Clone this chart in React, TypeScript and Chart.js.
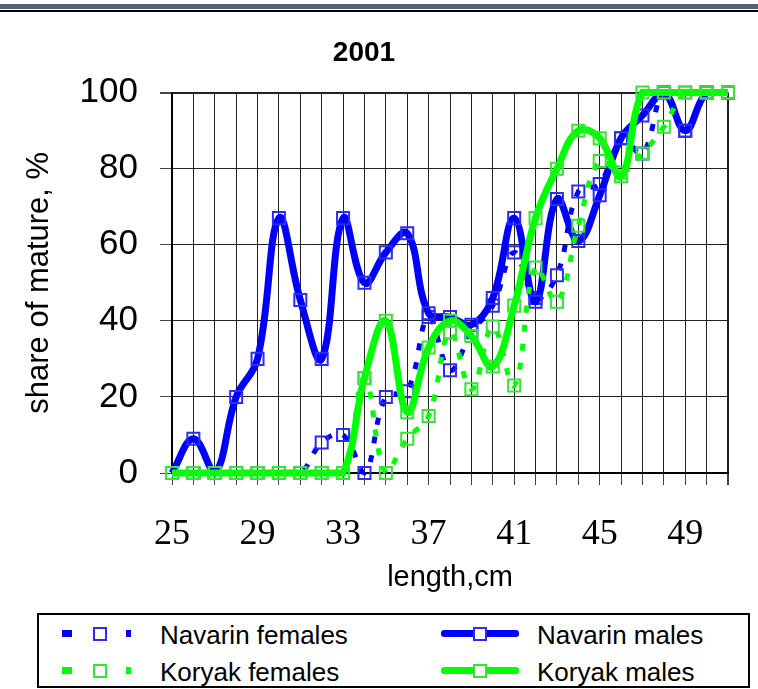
import React, { useEffect, useRef } from 'react';
import { Chart, registerables } from 'chart.js';

Chart.register(...registerables);

// ---- data ----
const lengths = [25, 26, 27, 28, 29, 30, 31, 32, 33, 34, 35, 36, 37, 38, 39, 40, 41, 42, 43, 44, 45, 46, 47, 48, 49, 50, 51];
const navarinFemales = [0, 0, 0, 0, 0, 0, 0, 8, 10, 0, 20, 21.5, 41, 27, 37, 44, 58, 46, 52, 74, 76, 88, 84, 100, 90, 100, 100];
const navarinMales = [0, 9, 0, 20, 30, 67, 45.5, 30, 67, 50, 58, 63, 42, 41, 39, 46, 67, 45, 72, 61, 73, 88, 94, 100, 90, 100, 100];
const koryakFemales = [0, 0, 0, 0, 0, 0, 0, 0, 0, 25, 0, 9, 15, 37, 22, 38.5, 23, 54, 45, 65, 82, 79, 84, 91, 100, 100, 100];
const koryakMales = [0, 0, 0, 0, 0, 0, 0, 0, 0, 25, 40, 16, 33, 40, 36, 28, 44, 67, 80, 90, 88, 78, 100, 100, 100, 100, 100];
const xLabelStep = 4;
const yStep = 20;
const yMin = 0;
const yMax = 100;

const titleText = '2001';
const xTitle = 'length,cm';
const yTitle = 'share of mature, %';
const legendItems = [
  { label: 'Navarin females', color: '#0000ff', marker: '#2b2bff', dashed: true },
  { label: 'Navarin males', color: '#0000ff', marker: '#2b2bff', dashed: false },
  { label: 'Koryak females', color: '#00ff00', marker: '#33e633', dashed: true },
  { label: 'Koryak males', color: '#00ff00', marker: '#33e633', dashed: false },
];

const SANS = '"Liberation Sans", Arial, sans-serif';
const SERIF = '"Liberation Serif", "Times New Roman", serif';

function LegendSample({ color, marker, dashed }: { color: string; marker: string; dashed: boolean }) {
  if (dashed) {
    return (
      <div style={{ position: 'relative', width: 80, height: 20 }}>
        <div style={{ position: 'absolute', left: 0, top: 6, width: 10, height: 7, background: color }} />
        <div style={{ position: 'absolute', left: 31, top: 3, width: 10, height: 10, border: `2px solid ${marker}`, background: '#fff' }} />
        <div style={{ position: 'absolute', left: 64, top: 6, width: 5, height: 7, background: color }} />
      </div>
    );
  }
  return (
    <div style={{ position: 'relative', width: 80, height: 20 }}>
      <div style={{ position: 'absolute', left: 0, top: 6, width: 78, height: 7, background: color, borderRadius: 3 }} />
      <div style={{ position: 'absolute', left: 32, top: 3, width: 10, height: 10, border: `2px solid ${marker}`, background: '#fff' }} />
    </div>
  );
}

export default function App() {
  const canvasRef = useRef<HTMLCanvasElement | null>(null);

  useEffect(() => {
    document.body.style.margin = '0';
    const canvas = canvasRef.current;
    if (!canvas) return;

    const mk = (label: string, data: number[], color: string, marker: string, dashed: boolean, order: number) => ({
      label,
      data,
      borderColor: color,
      borderWidth: dashed ? 5 : 7,
      borderDash: dashed ? [7, 12] : [],
      borderCapStyle: 'butt' as const,
      tension: 0.4,
      pointStyle: 'rect' as const,
      pointRadius: 8.5,
      pointBorderWidth: 2,
      pointBorderColor: marker,
      pointBackgroundColor: 'rgba(255,255,255,0)',
      fill: false,
      clip: false as const,
      order,
    });

    const chart = new Chart(canvas, {
      type: 'line',
      data: {
        labels: lengths.map(String),
        datasets: [
          mk('Navarin females', navarinFemales, '#0000ff', '#2b2bff', true, 3),
          mk('Navarin males', navarinMales, '#0000ff', '#2b2bff', false, 2),
          mk('Koryak females', koryakFemales, '#00ff00', '#33e633', true, 1),
          mk('Koryak males', koryakMales, '#00ff00', '#33e633', false, 0),
        ],
      },
      options: {
        animation: false,
        responsive: true,
        maintainAspectRatio: false,
        layout: { padding: { left: 0, right: 30, top: 0, bottom: 77 } },
        plugins: {
          legend: { display: false },
          tooltip: { enabled: false },
          title: {
            display: true,
            text: titleText,
            color: '#000',
            font: { family: SANS, size: 28, weight: 'bold', lineHeight: 1.2 },
            padding: { top: 36, bottom: 23 },
          },
        },
        scales: {
          x: {
            type: 'category',
            offset: false,
            grid: {
              color: '#222',
              lineWidth: (ctx: any) => (ctx.index === lengths.length - 1 ? 2 : 1),
              tickLength: 12,
              tickColor: '#444',
              offset: false,
            },
            border: { color: '#000', width: 2 },
            ticks: {
              autoSkip: false,
              maxRotation: 0,
              minRotation: 0,
              color: '#000',
              padding: 28,
              font: { family: SERIF, size: 36 },
              callback: (_v: any, i: number) => ((lengths[i] - lengths[0]) % xLabelStep === 0 ? String(lengths[i]) : ''),
            },
            title: {
              display: true,
              text: xTitle,
              color: '#000',
              font: { family: SANS, size: 29 },
              padding: { top: 0, bottom: 17 },
            },
            afterFit: (s: any) => {
              s.height = 139;
            },
          },
          y: {
            min: yMin,
            max: yMax,
            grid: {
              color: '#222',
              lineWidth: (ctx: any) => (ctx.tick && ctx.tick.value === yMax ? 2 : 1),
              tickLength: 12,
              tickColor: '#444',
            },
            border: { color: '#000', width: 2 },
            ticks: {
              stepSize: yStep,
              color: '#000',
              padding: 22,
              font: { family: SANS, size: 35 },
            },
            title: {
              display: true,
              text: yTitle,
              color: '#000',
              font: { family: SANS, size: 31 },
              padding: { top: 21, bottom: 0 },
            },
            afterFit: (s: any) => {
              s.width = 172;
            },
          },
        },
      },
    });

    return () => chart.destroy();
  }, []);

  return (
    <div style={{ position: 'relative', width: 758, height: 689, background: '#fff', overflow: 'hidden' }}>
      <div style={{ position: 'absolute', left: 0, top: 4, width: 758, height: 5, background: '#55627a' }} />
      <div style={{ position: 'absolute', left: 0, top: 10, width: 758, height: 2, background: '#000' }} />
      <div style={{ position: 'absolute', left: 0, top: 0, width: 758, height: 689 }}>
        <canvas ref={canvasRef} />
      </div>
      <div
        style={{
          position: 'absolute',
          left: 37,
          top: 613,
          width: 713,
          height: 75,
          border: '2px solid #000',
          boxSizing: 'border-box',
          background: '#fff',
          fontFamily: SANS,
          fontSize: 26,
          color: '#000',
        }}
      >
        {legendItems.map((it, i) => {
          const col = i % 2;
          const row = Math.floor(i / 2);
          const left = col === 0 ? 23 : 402;
          const top = row === 0 ? 6 : 43;
          const textLeft = col === 0 ? 121 : 498;
          return (
            <React.Fragment key={it.label}>
              <div style={{ position: 'absolute', left, top: top + 3 }}>
                <LegendSample color={it.color} marker={it.marker} dashed={it.dashed} />
              </div>
              <div style={{ position: 'absolute', left: textLeft, top, lineHeight: '28px', whiteSpace: 'nowrap' }}>{it.label}</div>
            </React.Fragment>
          );
        })}
      </div>
    </div>
  );
}
